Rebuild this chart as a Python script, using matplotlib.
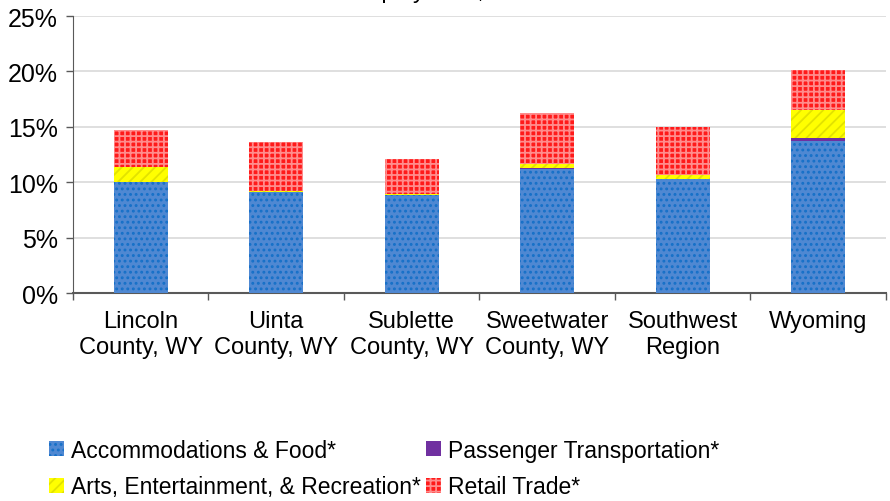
import matplotlib.pyplot as plt
import numpy as np

plt.rcParams['font.family'] = ['Liberation Sans', 'DejaVu Sans']
plt.rcParams['hatch.linewidth'] = 1.3

categories = ["Lincoln\nCounty, WY", "Uinta\nCounty, WY", "Sublette\nCounty, WY",
              "Sweetwater\nCounty, WY", "Southwest\nRegion", "Wyoming"]

accommodations_food = [10.0, 9.1, 8.9, 11.2, 10.3, 13.7]
passenger_transport = [0.0, 0.0, 0.0, 0.05, 0.0, 0.3]
arts_entertainment = [1.35, 0.15, 0.05, 0.4, 0.4, 2.5]
retail_trade = [3.35, 4.35, 3.15, 4.65, 4.3, 3.6]

series = [
    ("Accommodations & Food*", accommodations_food, "#4F88D2", "#1570C8", "..."),
    ("Passenger Transportation*", passenger_transport, "#7030A0", "#7030A0", None),
    ("Arts, Entertainment, & Recreation*", arts_entertainment, "#FFFF00", "#E2E200", "///"),
    ("Retail Trade*", retail_trade, "#FF1A1A", "#FF8C8C", "+++"),
]

fig = plt.figure(figsize=(8.9, 5.02), dpi=100)
ax = fig.add_axes([0.082, 0.414, 0.9135, 0.552])

x = np.arange(len(categories))
bottom = np.zeros(len(categories))
handles = {}
for label, vals, face, hatch_col, hatch in series:
    vals = np.array(vals)
    bars = ax.bar(x, vals, width=0.4, bottom=bottom, color=face,
                  edgecolor=hatch_col, linewidth=0, hatch=hatch, label=label, zorder=3)
    handles[label] = bars
    bottom += vals

ax.set_xlim(-0.5, len(categories) - 0.5)
ax.set_ylim(0, 25)
ax.set_yticks(np.arange(0, 26, 5))
ax.set_yticklabels([f"{v}%" for v in range(0, 26, 5)])
ax.yaxis.grid(True, color="#D9D9D9", linewidth=1.2, zorder=0)
ax.set_axisbelow(True)

ax.set_xticks(x)
ax.set_xticklabels(categories, linespacing=1.25)
ax.set_xticks(np.arange(-0.5, len(categories)), minor=True)
ax.tick_params(axis="x", which="major", length=0, pad=12, labelsize=17)
ax.tick_params(axis="x", which="minor", length=5, color="#595959", width=1)
ax.tick_params(axis="y", length=5, color="#595959", width=1, labelsize=18, pad=6)

for side in ("top", "right"):
    ax.spines[side].set_visible(False)
ax.spines["left"].set_color("#595959")
ax.spines["bottom"].set_color("#595959")
ax.spines["bottom"].set_linewidth(1.5)

# chart title sits at the very top edge of the canvas
fig.text(0.5, 1.003, "Employment, 2010", ha="center", va="baseline", fontsize=17)

order = ["Accommodations & Food*", "Arts, Entertainment, & Recreation*",
         "Passenger Transportation*", "Retail Trade*"]
fig.legend([handles[k] for k in order], order, ncol=2, frameon=False,
           loc="lower left", bbox_to_anchor=(0.032, -0.036), fontsize=16.5,
           handlelength=0.65, handleheight=0.65, handletextpad=0.3,
           columnspacing=0.25, labelspacing=0.6)

fig.savefig("out.png", dpi=100)
